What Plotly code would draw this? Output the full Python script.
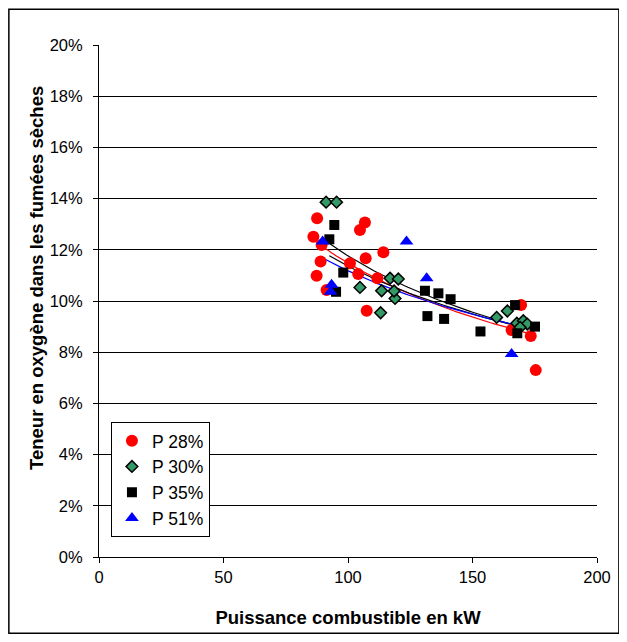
import numpy as np
import plotly.graph_objects as go

# Puissance (kW) / teneur O2 (%) per series
p28_x = [87.6, 86.1, 89.4, 106.8, 104.8, 114.2, 107.1, 100.8, 89.0, 87.4, 91.4, 104.1, 111.8, 107.5, 169.5, 165.7, 173.4, 175.4]
p28_y = [13.23, 12.51, 12.19, 13.07, 12.77, 11.90, 11.67, 11.47, 11.54, 10.99, 10.43, 11.05, 10.89, 9.62, 9.84, 8.87, 8.63, 7.30]

p30_x = [91.2, 95.4, 104.8, 113.5, 113.1, 116.9, 120.2, 118.9, 118.5, 164.0, 159.7, 167.8, 170.4, 172.0, 169.1]
p30_y = [13.86, 13.86, 10.53, 10.40, 9.54, 10.89, 10.86, 10.10, 10.39, 9.61, 9.36, 9.13, 9.23, 9.10, 8.97]

p35_x = [94.5, 92.5, 98.1, 95.2, 130.9, 136.3, 141.2, 131.9, 138.6, 153.2, 167.1, 168.0, 175.1]
p35_y = [12.97, 12.41, 11.11, 10.36, 10.40, 10.30, 10.07, 9.41, 9.30, 8.81, 9.84, 8.74, 9.00]

p51_x = [89.8, 93.4, 93.0, 123.5, 131.6, 165.7]
p51_y = [12.32, 10.63, 10.36, 12.32, 10.89, 7.93]

x_ticks = [0, 50, 100, 150, 200]
y_ticks = [0, 2, 4, 6, 8, 10, 12, 14, 16, 18, 20]
y_labels = [f"{v}%" for v in y_ticks]

series = [
    ("P 28%", p28_x, p28_y, dict(symbol="circle", size=12, color="#ff0000", line=dict(width=0)), "#ff0000"),
    ("P 30%", p30_x, p30_y, dict(symbol="diamond", size=9, color="#339966", line=dict(width=1.5, color="#000000")), "#000000"),
    ("P 35%", p35_x, p35_y, dict(symbol="square", size=10, color="#000000", line=dict(width=0)), "#000000"),
    ("P 51%", p51_x, p51_y, dict(symbol="triangle-up", size=12, color="#0000ff", line=dict(width=0)), "#0000ff"),
]

fig = go.Figure()

# power-law trendlines (Excel style), fitted on each series
for name, xs, ys, marker, lc in series:
    xs_a = np.array(xs)
    ys_a = np.array(ys)
    b, ln_a = np.polyfit(np.log(xs_a), np.log(ys_a), 1)
    xt = np.linspace(xs_a.min(), xs_a.max(), 60)
    fig.add_trace(go.Scatter(x=xt, y=np.exp(ln_a) * xt ** b, mode="lines",
                             line=dict(color=lc, width=1.2), showlegend=False,
                             hoverinfo="skip"))

for name, xs, ys, marker, lc in series:
    fig.add_trace(go.Scatter(x=xs, y=ys, mode="markers", name=name, marker=marker))

# page has an 8px body margin, so the figure starts at (8, 8)
fig.update_layout(
    width=619, height=634,
    margin=dict(l=91, r=30, t=37, b=85),
    paper_bgcolor="white", plot_bgcolor="white",
    font=dict(family="Liberation Sans", size=16.5, color="black"),
    legend=dict(x=0.024, y=0.264, xanchor="left", yanchor="top",
                bordercolor="black", borderwidth=1, bgcolor="white",
                font=dict(size=17.5), tracegroupgap=4),
    shapes=[dict(type="rect", xref="paper", yref="paper",
                 x0=-0.181, x1=1.044, y0=-0.149, y1=1.07,
                 line=dict(color="black", width=1.5))],
    # y title sits a bit above the plot centre in the original
    annotations=[dict(text="<b>Teneur en oxygène dans les fumées sèches</b>",
                      xref="paper", yref="paper", x=-0.1245, y=0.545,
                      xanchor="center", yanchor="middle",
                      textangle=-90, showarrow=False, font=dict(size=18.5))],
)

fig.update_xaxes(
    range=[0, 200], tickvals=x_ticks, showgrid=False, zeroline=False,
    showline=True, linecolor="black", linewidth=1,
    ticks="outside", ticklen=5, tickcolor="black",
    title=dict(text="<b>Puissance combustible en kW</b>", font=dict(size=18.5), standoff=26),
)
fig.update_yaxes(
    range=[0, 20], tickvals=y_ticks, ticktext=y_labels, showgrid=True,
    gridcolor="#000000", gridwidth=1, zeroline=False,
    showline=True, linecolor="black", linewidth=1,
    ticks="outside", ticklen=5, tickcolor="black", ticklabelstandoff=7,
)

fig.write_html("out.html")
